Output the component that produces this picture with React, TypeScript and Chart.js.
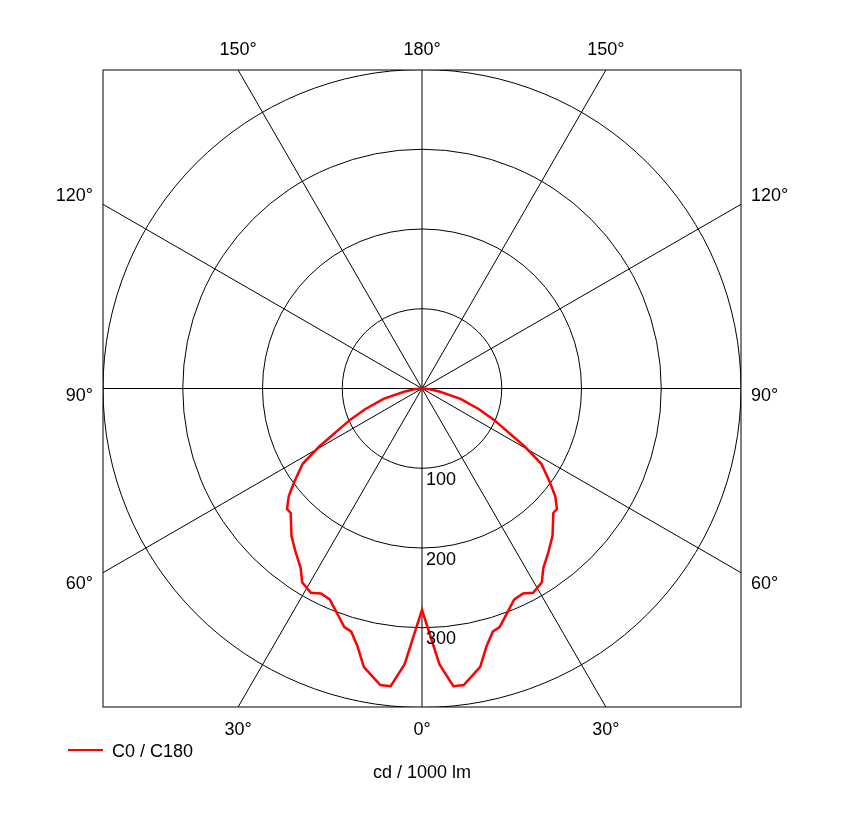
import React, { useEffect, useRef } from "react";
import { Chart, registerables } from "chart.js";

Chart.register(...registerables);

// Gamma angles (deg) and luminous intensity (cd / 1000 lm), C0 / C180 plane
const gammaDeg = [0, 3.6, 6, 8, 11.8, 14, 16.2, 18, 23.6, 26.2, 28.5, 31.7, 34, 37.5, 41.5, 46.5, 48.2, 51, 53.7, 57.7, 60.5, 66.5, 70, 75, 80, 85, 90];
const intensityC0 = [278, 347, 376, 376, 357, 334, 318, 315, 289, 287, 292, 286, 272, 260, 247, 227, 227, 215, 199, 177, 148, 98, 76, 50, 22, 8, 0];
const intensityC180 = [278, 347, 376, 376, 357, 334, 318, 315, 289, 287, 292, 286, 272, 260, 247, 227, 227, 215, 199, 177, 148, 98, 76, 50, 22, 8, 0];

const ringValues = [100, 200, 300, 400];
const ringLabels = ["100", "200", "300"];
const spokeAngles = [0, 30, 60, 90, 120, 150, 180, 210, 240, 270, 300, 330];
const axisMax = 400;
const seriesLabel = "C0 / C180";
const unitLabel = "cd / 1000 lm";

const FONT = "18px 'Liberation Sans', Arial, sans-serif";

const polarPlugin = {
  id: "polarGrid",
  beforeDatasetsDraw(chart: any) {
    const { ctx, chartArea, scales } = chart;
    const xs = scales.x;
    const ys = scales.y;
    const cx = xs.getPixelForValue(0);
    const cy = ys.getPixelForValue(0);
    ctx.save();
    ctx.fillStyle = "#ffffff";
    ctx.fillRect(chartArea.left, chartArea.top, chartArea.right - chartArea.left, chartArea.bottom - chartArea.top);
    ctx.beginPath();
    ctx.rect(chartArea.left, chartArea.top, chartArea.right - chartArea.left, chartArea.bottom - chartArea.top);
    ctx.clip();
    ctx.strokeStyle = "#000000";
    ctx.lineWidth = 1;
    ringValues.forEach((v) => {
      const r = xs.getPixelForValue(v) - cx;
      ctx.beginPath();
      ctx.arc(cx, cy, r, 0, Math.PI * 2);
      ctx.stroke();
    });
    spokeAngles.forEach((a) => {
      const rad = (a * Math.PI) / 180;
      const far = 2000;
      ctx.beginPath();
      ctx.moveTo(cx, cy);
      ctx.lineTo(cx + Math.sin(rad) * far, cy + Math.cos(rad) * far);
      ctx.stroke();
    });
    ctx.restore();
  },
  afterDraw(chart: any) {
    const { ctx, chartArea, scales } = chart;
    const xs = scales.x;
    const ys = scales.y;
    const cx = xs.getPixelForValue(0);
    const cy = ys.getPixelForValue(0);
    ctx.save();
    // box
    ctx.strokeStyle = "#000000";
    ctx.lineWidth = 1;
    ctx.strokeRect(chartArea.left, chartArea.top, chartArea.right - chartArea.left, chartArea.bottom - chartArea.top);
    ctx.fillStyle = "#000000";
    ctx.font = FONT;
    // ring labels
    ctx.textAlign = "left";
    ctx.textBaseline = "alphabetic";
    ringLabels.forEach((t, i) => {
      const y = ys.getPixelForValue(-ringValues[i]);
      ctx.fillText(t, cx + 4, y + 17);
    });
    // angle labels
    const halfW = chartArea.right - cx;
    const halfH = chartArea.bottom - cy;
    spokeAngles.forEach((a) => {
      const rad = (a * Math.PI) / 180;
      const dx = Math.sin(rad);
      const dy = Math.cos(rad);
      const txt = (a <= 180 ? a : 360 - a) + "°";
      const tx = Math.abs(dx) > 1e-9 ? halfW / Math.abs(dx) : Infinity;
      const ty = Math.abs(dy) > 1e-9 ? halfH / Math.abs(dy) : Infinity;
      const t = Math.min(tx, ty);
      const hx = cx + dx * t;
      const hy = cy + dy * t;
      if (ty <= tx) {
        ctx.textAlign = "center";
        if (dy > 0) ctx.fillText(txt, hx, chartArea.bottom + 28);
        else ctx.fillText(txt, hx, chartArea.top - 15);
      } else {
        const off = Math.abs(dy) < 1e-9 ? 12 : (dy > 0 ? 16.5 : -3);
        if (dx > 0) {
          ctx.textAlign = "left";
          ctx.fillText(txt, chartArea.right + 10, hy + off);
        } else {
          ctx.textAlign = "right";
          ctx.fillText(txt, chartArea.left - 10, hy + off);
        }
      }
    });
    // legend
    const ds = chart.data.datasets[0];
    ctx.strokeStyle = ds.borderColor;
    ctx.lineWidth = 2;
    ctx.beginPath();
    ctx.moveTo(68, 750);
    ctx.lineTo(103, 750);
    ctx.stroke();
    ctx.textAlign = "left";
    ctx.fillText(ds.label, 112, 757);
    // unit
    ctx.textAlign = "center";
    ctx.fillText(unitLabel, cx, 778);
    ctx.restore();
  },
};

export default function App() {
  const ref = useRef<HTMLCanvasElement>(null);
  useEffect(() => {
    document.body.style.margin = "0";
    const toRad = (d: number) => (d * Math.PI) / 180;
    const left = gammaDeg
      .map((g, i) => ({ x: -intensityC180[i] * Math.sin(toRad(g)), y: -intensityC180[i] * Math.cos(toRad(g)) }))
      .reverse();
    const right = gammaDeg.map((g, i) => ({ x: intensityC0[i] * Math.sin(toRad(g)), y: -intensityC0[i] * Math.cos(toRad(g)) }));
    const data = [...left, ...right.slice(1)];
    const chart = new Chart(ref.current as HTMLCanvasElement, {
      type: "scatter",
      data: {
        datasets: [
          {
            label: seriesLabel,
            data,
            showLine: true,
            borderColor: "#ff0000",
            borderWidth: 2.5,
            pointRadius: 0,
            tension: 0,
            fill: false,
          },
        ],
      },
      options: {
        responsive: false,
        animation: false,
        layout: { padding: { left: 103, right: 105, top: 70, bottom: 113 } },
        plugins: { legend: { display: false }, tooltip: { enabled: false }, title: { display: false } },
        scales: {
          x: { type: "linear", min: -axisMax, max: axisMax, display: false },
          y: { type: "linear", min: -axisMax, max: axisMax, display: false },
        },
      },
      plugins: [polarPlugin],
    });
    return () => chart.destroy();
  }, []);
  return (
    <div style={{ position: "fixed", left: 0, top: 0, width: 846, height: 820, background: "#fff" }}>
      <canvas ref={ref} width={846} height={820} style={{ display: "block" }} />
    </div>
  );
}
